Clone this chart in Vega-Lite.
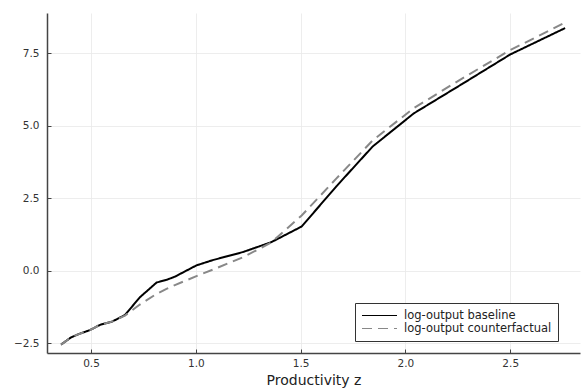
{
  "$schema": "https://vega.github.io/schema/vega-lite/v6.json",
  "width": 533,
  "height": 340,
  "padding": {"left": 47, "top": 13, "right": 1, "bottom": 39},
  "autosize": {"type": "none"},
  "config": {
    "font": "DejaVu Sans",
    "view": {"stroke": null},
    "axis": {
      "grid": true,
      "gridColor": "#e8e8e8",
      "gridWidth": 0.8,
      "domainColor": "#444444",
      "domainWidth": 1.5,
      "tickColor": "#444444",
      "tickSize": -4,
      "labelFont": "DejaVu Sans",
      "labelFontSize": 10.5,
      "labelColor": "#333333",
      "titleFont": "DejaVu Sans",
      "titleFontWeight": "normal",
      "titleColor": "#222222"
    }
  },
  "data": {"values": [
    {"z": 0.357, "y": -2.55, "s": "log-output baseline"},
    {"z": 0.405, "y": -2.30, "s": "log-output baseline"},
    {"z": 0.448, "y": -2.17, "s": "log-output baseline"},
    {"z": 0.495, "y": -2.05, "s": "log-output baseline"},
    {"z": 0.543, "y": -1.87, "s": "log-output baseline"},
    {"z": 0.600, "y": -1.76, "s": "log-output baseline"},
    {"z": 0.662, "y": -1.53, "s": "log-output baseline"},
    {"z": 0.733, "y": -0.92, "s": "log-output baseline"},
    {"z": 0.813, "y": -0.41, "s": "log-output baseline"},
    {"z": 0.860, "y": -0.32, "s": "log-output baseline"},
    {"z": 0.900, "y": -0.21, "s": "log-output baseline"},
    {"z": 1.003, "y": 0.18, "s": "log-output baseline"},
    {"z": 1.080, "y": 0.36, "s": "log-output baseline"},
    {"z": 1.225, "y": 0.64, "s": "log-output baseline"},
    {"z": 1.360, "y": 0.98, "s": "log-output baseline"},
    {"z": 1.505, "y": 1.52, "s": "log-output baseline"},
    {"z": 1.670, "y": 2.90, "s": "log-output baseline"},
    {"z": 1.844, "y": 4.28, "s": "log-output baseline"},
    {"z": 2.040, "y": 5.42, "s": "log-output baseline"},
    {"z": 2.270, "y": 6.43, "s": "log-output baseline"},
    {"z": 2.500, "y": 7.45, "s": "log-output baseline"},
    {"z": 2.762, "y": 8.36, "s": "log-output baseline"},
    {"z": 0.357, "y": -2.55, "s": "log-output counterfactual"},
    {"z": 0.405, "y": -2.30, "s": "log-output counterfactual"},
    {"z": 0.448, "y": -2.17, "s": "log-output counterfactual"},
    {"z": 0.495, "y": -2.05, "s": "log-output counterfactual"},
    {"z": 0.543, "y": -1.87, "s": "log-output counterfactual"},
    {"z": 0.600, "y": -1.76, "s": "log-output counterfactual"},
    {"z": 0.662, "y": -1.55, "s": "log-output counterfactual"},
    {"z": 0.733, "y": -1.17, "s": "log-output counterfactual"},
    {"z": 0.813, "y": -0.80, "s": "log-output counterfactual"},
    {"z": 0.860, "y": -0.63, "s": "log-output counterfactual"},
    {"z": 0.900, "y": -0.50, "s": "log-output counterfactual"},
    {"z": 1.003, "y": -0.19, "s": "log-output counterfactual"},
    {"z": 1.080, "y": 0.03, "s": "log-output counterfactual"},
    {"z": 1.225, "y": 0.46, "s": "log-output counterfactual"},
    {"z": 1.360, "y": 0.97, "s": "log-output counterfactual"},
    {"z": 1.505, "y": 1.90, "s": "log-output counterfactual"},
    {"z": 1.670, "y": 3.17, "s": "log-output counterfactual"},
    {"z": 1.844, "y": 4.49, "s": "log-output counterfactual"},
    {"z": 2.040, "y": 5.60, "s": "log-output counterfactual"},
    {"z": 2.270, "y": 6.62, "s": "log-output counterfactual"},
    {"z": 2.500, "y": 7.60, "s": "log-output counterfactual"},
    {"z": 2.762, "y": 8.55, "s": "log-output counterfactual"}
  ]},
  "mark": {"type": "line", "strokeWidth": 2, "clip": true},
  "encoding": {
    "x": {
      "field": "z", "type": "quantitative",
      "scale": {"domain": [0.29, 2.833], "nice": false, "zero": false},
      "axis": {"values": [0.5, 1.0, 1.5, 2.0, 2.5], "format": ".1f", "title": "Productivity z", "titleFontSize": 14, "titlePadding": 5, "labelPadding": 9}
    },
    "y": {
      "field": "y", "type": "quantitative",
      "scale": {"domain": [-2.84, 8.88], "nice": false, "zero": false},
      "axis": {"values": [-2.5, 0, 2.5, 5, 7.5], "format": ".1f", "title": null, "labelPadding": 12}
    },
    "color": {
      "field": "s", "type": "nominal",
      "scale": {"domain": ["log-output baseline", "log-output counterfactual"], "range": ["#000000", "#888888"]},
      "legend": {
        "title": null,
        "orient": "none",
        "legendX": 308,
        "legendY": 290,
        "direction": "vertical",
        "symbolType": "stroke",
        "symbolStrokeWidth": 1.2,
        "symbolSize": 1225,
        "clipHeight": 13,
        "labelFontSize": 11.5,
        "labelOffset": 6,
        "labelColor": "#222222",
        "strokeColor": "#333333",
        "fillColor": "#ffffff",
        "padding": 6,
        "rowPadding": 0
      }
    },
    "strokeDash": {
      "field": "s", "type": "nominal",
      "scale": {"domain": ["log-output baseline", "log-output counterfactual"], "range": [[1, 0], [10, 6]]},
      "legend": null
    }
  }
}
